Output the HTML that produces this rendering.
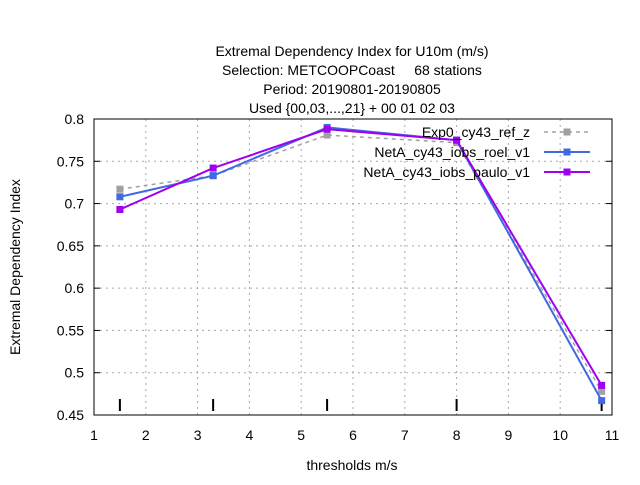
<!DOCTYPE html>
<html><head><meta charset="utf-8"><style>
body{margin:0;background:#fff}
svg{font-family:"Liberation Sans",sans-serif;font-size:14px}
</style></head><body>
<svg id="c" width="640" height="480">
<g text-anchor="middle" font-size="14">
<text x="352" y="56">Extremal Dependency Index  for U10m (m/s)</text>
<text x="352" y="75" xml:space="preserve">Selection: METCOOPCoast     68 stations</text>
<text x="352" y="94">Period: 20190801-20190805</text>
<text x="352" y="113">Used {00,03,...,21} + 00 01 02 03</text>
</g>
<text transform="translate(20,267) rotate(-90)" text-anchor="middle">Extremal Dependency Index</text>
<text x="352" y="470" text-anchor="middle">thresholds m/s</text>
<g id="grid"></g><g id="marks"></g>
<rect x="94" y="119" width="518" height="296" fill="none" stroke="#000"/>
<g id="legend"></g>
</svg>
<script>
const xTicks=[1,2,3,4,5,6,7,8,9,10,11];
const yTicks=[0.45,0.5,0.55,0.6,0.65,0.7,0.75,0.8];
const thresholds=[1.5,3.3,5.5,8,10.8];
const seriesNames=["Exp0_cy43_ref_z","NetA_cy43_iobs_roel_v1","NetA_cy43_iobs_paulo_v1"];
const exp0=[0.717,0.733,0.781,0.772,0.478];
const roel=[0.708,0.733,0.790,0.775,0.467];
const paulo=[0.693,0.742,0.788,0.775,0.485];
const L=94,R=612,T=119,B=415;
const xs=v=>L+(v-1)/10*(R-L);
const ys=v=>B-(v-0.45)/0.35*(B-T);
const NS="http://www.w3.org/2000/svg";
function mk(t,a,p){const e=document.createElementNS(NS,t);for(const k in a)e.setAttribute(k,a[k]);p.appendChild(e);return e;}
const g=document.getElementById('grid');
xTicks.forEach(v=>{const x=xs(v);
 if(v>1&&v<11){const l=mk('line',{x1:x,x2:x,y1:T,y2:B,stroke:'#aaa','stroke-dasharray':'2,4'},g);
 }
 const t=mk('text',{x:x,y:B+25,'text-anchor':'middle'},g);t.textContent=v;
 });
yTicks.forEach(v=>{const y=ys(v);
 if(v>0.45&&v<0.8){const l=mk('line',{x1:L,x2:R,y1:y,y2:y,stroke:'#aaa','stroke-dasharray':'2,4'},g);
 }
 mk('line',{x1:L,x2:L+6,y1:y,y2:y,stroke:'#000'},g);mk('line',{x1:R,x2:R-6,y1:y,y2:y,stroke:'#000'},g);
 const t=mk('text',{x:L-10,y:y+5,'text-anchor':'end'},g);t.textContent=String(v);
 });
thresholds.forEach(v=>{const m=mk('line',{x1:xs(v),x2:xs(v),y1:B-16,y2:B-4,stroke:'#000','stroke-width':2},g);
 });
const mg=document.getElementById('marks'),lg=document.getElementById('legend');
const styles=[{d:exp0,c:'#a0a0a0',w:1.5,dash:'4,4'},{d:roel,c:'#4169e1',w:2,dash:''},{d:paulo,c:'#a000f0',w:2,dash:''}];
styles.forEach((s,i)=>{
 const pts=s.d.map((v,j)=>xs(thresholds[j])+','+ys(v)).join(' ');
 const pl=mk('polyline',{points:pts,fill:'none',stroke:s.c,'stroke-width':s.w,'stroke-dasharray':s.dash},mg);
 
 s.d.forEach((v,j)=>{const r=mk('rect',{x:xs(thresholds[j])-3.5,y:ys(v)-3.5,width:7,height:7,fill:s.c},mg);
  });
 const ly=132+i*20;
 const t=mk('text',{x:530,y:ly+5,'text-anchor':'end'},lg);t.textContent=seriesNames[i];
 
 const ll=mk('line',{x1:544,x2:590,y1:ly,y2:ly,stroke:s.c,'stroke-width':s.w,'stroke-dasharray':s.dash},lg);
 
 mk('rect',{x:563.5,y:ly-3.5,width:7,height:7,fill:s.c},lg);
});
</script>
</body></html>
